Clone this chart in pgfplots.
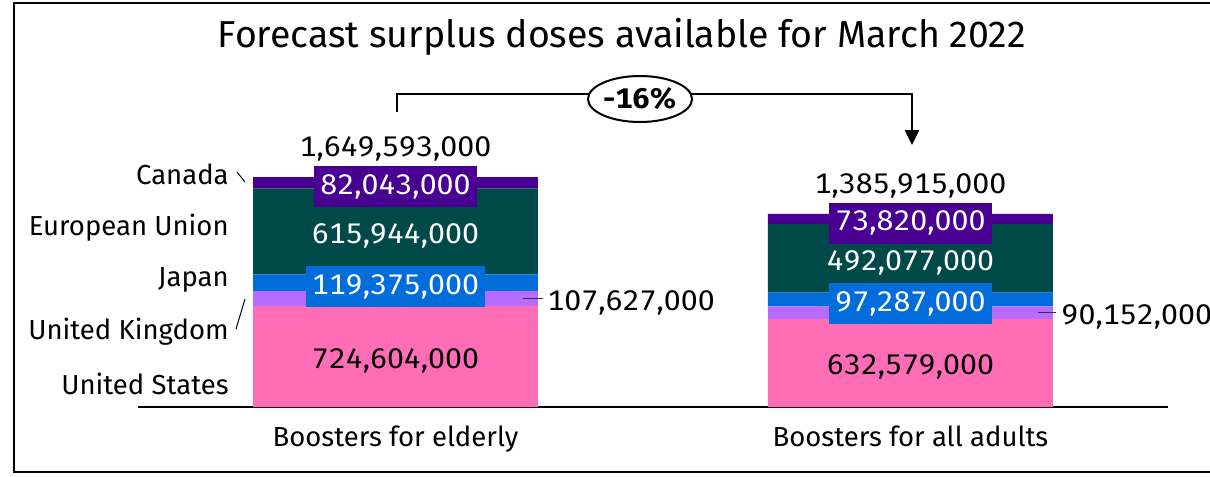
\documentclass[border=0pt]{standalone}
\usepackage{fontspec}
\setmainfont{Fira Sans}
\newfontfamily\numfont{Fira Sans}[Numbers=Monospaced, FakeStretch=1.07]
\usepackage{pgfplots}
\usepackage{pgfplotstable}
\pgfplotsset{compat=1.18}
\usetikzlibrary{arrows.meta,shapes.geometric}

\definecolor{cUS}{HTML}{FF6DB6}
\definecolor{cUK}{HTML}{B66DFF}
\definecolor{cJP}{HTML}{006DDB}
\definecolor{cEU}{HTML}{004949}
\definecolor{cCA}{HTML}{490092}

\def\pp{0.6pt}
\newcommand\lab{\fontsize{16.5}{19}\selectfont}
\newcommand\num{\numfont\fontsize{17}{20}\selectfont}

% doses, millions
\pgfplotstableread{
x US      UK      JP      EU      CA
0 724.604 107.627 119.375 615.944 82.043
1 632.579 90.152  97.287  492.077 73.820
}\doses

\begin{document}
\begin{tikzpicture}
\useasboundingbox (0,0) rectangle (1210*\pp,-476*\pp);
\draw[line width=1.2pt] (14*\pp,-3*\pp) rectangle (1230*\pp,-472*\pp);

\begin{axis}[
    at={(138*\pp,-407*\pp)}, anchor=south west,
    scale only axis, width=618pt, height=209.1pt,
    xmin=-0.5, xmax=1.5, ymin=0, ymax=2500,
    ybar stacked, bar width=171pt,
    hide y axis,
    axis x line=bottom,
    x axis line style={-, line width=1.2pt, black},
    xtick={0,1},
    xticklabels={Boosters for elderly, Boosters for all adults},
    major tick length=0pt,
    xticklabel style={font=\lab, yshift=-8pt},
    clip=false,
]
\addplot[fill=cUS, draw=none] table[x=x, y=US] {\doses};
\addplot[fill=cUK, draw=none] table[x=x, y=UK] {\doses};
\addplot[fill=cJP, draw=none] table[x=x, y=JP] {\doses};
\addplot[fill=cEU, draw=none] table[x=x, y=EU] {\doses};
\addplot[fill=cCA, draw=none] table[x=x, y=CA] {\doses};

% label anchors (segment centres and bar tops)
\coordinate (aUS) at (axis cs:0,362.3);
\coordinate (aJP) at (axis cs:0,891.9);
\coordinate (aEU) at (axis cs:0,1259.6);
\coordinate (aCA) at (axis cs:0,1608.6);
\coordinate (aTop) at (axis cs:0,1649.593);
\coordinate (aUKa) at (axis cs:0.2473,778.4);
\coordinate (aUKb) at (axis cs:0.2861,778.4);
\coordinate (aUKt) at (axis cs:0.2944,778.4);
\coordinate (bUS) at (axis cs:1,316.3);
\coordinate (bJP) at (axis cs:1,771.4);
\coordinate (bEU) at (axis cs:1,1066.1);
\coordinate (bCA) at (axis cs:1,1349.0);
\coordinate (bTop) at (axis cs:1,1385.915);
\coordinate (bUKa) at (axis cs:1.2483,677.7);
\coordinate (bUKb) at (axis cs:1.2832,677.7);
\coordinate (bUKt) at (axis cs:1.2929,677.7);
\end{axis}

\tikzset{
  val/.style={font=\num, yshift=-2.5pt},
  box/.style={val, text=white, minimum height=24.6pt, inner xsep=3.6pt}}
\node[val] at (aUS) {724,604,000};
\node[box, fill=cJP] at (aJP) {119,375,000};
\node[val, text=white] at (aEU) {615,944,000};
\node[box, fill=cCA] at (aCA) {82,043,000};
\node[font=\num, yshift=17pt] at (aTop) {1,649,593,000};
\draw[line width=0.8pt, black!80] (aUKa) -- (aUKb);
\node[val, anchor=west, inner sep=0pt] at (aUKt) {107,627,000};

\node[val] at (bUS) {632,579,000};
\node[box, fill=cJP] at (bJP) {97,287,000};
\node[val, text=white] at (bEU) {492,077,000};
\node[box, fill=cCA] at (bCA) {73,820,000};
\node[font=\num, yshift=17pt] at (bTop) {1,385,915,000};
\draw[line width=0.8pt, black!80] (bUKa) -- (bUKb);
\node[val, anchor=west, inner sep=0pt] at (bUKt) {90,152,000};

% series names
\node[font=\lab, anchor=east, inner sep=0pt] at (229*\pp,-174*\pp) {Canada};
\node[font=\lab, anchor=east, inner sep=0pt] at (229*\pp,-228*\pp) {European Union};
\node[font=\lab, anchor=east, inner sep=0pt] at (229*\pp,-280*\pp) {Japan};
\node[font=\lab, anchor=east, inner sep=0pt] at (229*\pp,-332*\pp) {United Kingdom};
\node[font=\lab, anchor=east, inner sep=0pt] at (229*\pp,-384*\pp) {United States};
\draw[line width=0.6pt] (237*\pp,-172*\pp) -- (245*\pp,-182*\pp);
\draw[line width=0.6pt] (236*\pp,-329*\pp) -- (245*\pp,-299*\pp);

% title
\node[font=\fontsize{22.5}{27}\selectfont] at (622*\pp,-37*\pp) {Forecast surplus doses available for March 2022};

% change bracket
\draw[line width=1.2pt, -{Triangle[length=9pt, width=8.5pt]}]
    (397*\pp,-112*\pp) -- (397*\pp,-94*\pp) -- (912*\pp,-94*\pp) -- (912*\pp,-145*\pp);
\node[draw, ellipse, line width=1.2pt, fill=white, minimum width=58.8pt, minimum height=27.6pt, inner sep=0pt, font=\num\bfseries] at (640*\pp,-99*\pp) {-16\%};
\end{tikzpicture}
\end{document}
